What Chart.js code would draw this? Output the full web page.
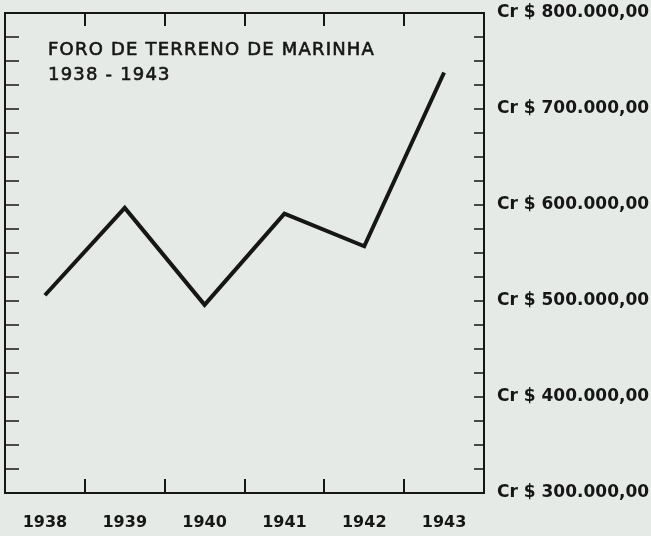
<!DOCTYPE html>
<html>
<head>
<meta charset="utf-8">
<script src="https://cdn.jsdelivr.net/npm/chart.js@4/dist/chart.umd.min.js"></script>
<style>
  html, body { margin: 0; padding: 0; background: #e5eae6; }
  #wrap { width: 651px; height: 536px; }
</style>
</head>
<body>
<div id="wrap"><canvas id="chart"></canvas></div>
<script>
// dados
const years = ["1938", "1939", "1940", "1941", "1942", "1943"];
const foro = [506000, 597000, 496000, 591000, 557000, 738000];
const yTicks = [300000, 400000, 500000, 600000, 700000, 800000];
const titleLines = ["FORO DE TERRENO DE MARINHA", "1938 - 1943"];

const ink = "#161616";
const paper = "#e5eae6";

function fmtCr(v) {
  // 800000 -> "Cr $ 800.000,00"
  const s = String(v).replace(/\B(?=(\d{3})+(?!\d))/g, ".");
  return "Cr $ " + s + ",00";
}

// fundo, moldura, marcas e título
const frame = {
  id: "frame",
  beforeDraw(c) {
    const ctx = c.ctx;
    ctx.save();
    ctx.fillStyle = paper;
    ctx.fillRect(0, 0, c.width, c.height);
    ctx.restore();
  },
  afterDatasetsDraw(c) {
    const ctx = c.ctx;
    const a = c.chartArea;
    const xs = c.scales.x;
    const ys = c.scales.y;
    ctx.save();
    ctx.strokeStyle = ink;
    ctx.lineWidth = 2;
    ctx.strokeRect(a.left, a.top, a.right - a.left, a.bottom - a.top);

    // marcas no topo e na base, entre os anos
    ctx.lineWidth = 2;
    for (let i = 0; i < years.length - 1; i++) {
      const x = Math.round(xs.getPixelForValue(i + 0.5));
      ctx.beginPath();
      ctx.moveTo(x, a.top);
      ctx.lineTo(x, a.top + 13);
      ctx.moveTo(x, a.bottom);
      ctx.lineTo(x, a.bottom - 14);
      ctx.stroke();
    }

    // marcas laterais a cada 25.000
    ctx.lineWidth = 1.6;
    for (let v = ys.min + 25000; v < ys.max; v += 25000) {
      const y = Math.round(ys.getPixelForValue(v));
      ctx.beginPath();
      ctx.moveTo(a.left, y);
      ctx.lineTo(a.left + 14, y);
      ctx.moveTo(a.right, y);
      ctx.lineTo(a.right - 10, y);
      ctx.stroke();
    }
    ctx.restore();
  },
  afterDraw(c) {
    const ctx = c.ctx;
    const a = c.chartArea;
    ctx.save();
    ctx.fillStyle = ink;
    ctx.strokeStyle = ink;
    ctx.lineWidth = 0.6;
    ctx.font = "18px 'DejaVu Sans'";
    ctx.letterSpacing = "1.2px";
    ctx.textBaseline = "middle";
    ctx.textAlign = "left";
    titleLines.forEach((t, i) => {
      const y = i === 0 ? 50 : 75;
      ctx.fillText(t, a.left + 43, y);
      ctx.strokeText(t, a.left + 43, y);
    });
    ctx.restore();
  }
};

const ctx = document.getElementById("chart").getContext("2d");

new Chart(ctx, {
  type: "line",
  data: {
    labels: years,
    datasets: [{
      data: foro,
      borderColor: ink,
      borderWidth: 4,
      pointRadius: 0,
      tension: 0,
      fill: false,
      borderJoinStyle: "miter"
    }]
  },
  options: {
    responsive: true,
    maintainAspectRatio: false,
    animation: false,
    layout: { padding: { top: 13, left: 5, right: 0, bottom: 0 } },
    plugins: {
      legend: { display: false },
      tooltip: { enabled: false }
    },
    scales: {
      x: {
        offset: true,
        grid: { display: false, drawTicks: false },
        border: { display: false },
        ticks: {
          color: ink,
          padding: 20,
          font: { family: "DejaVu Sans", size: 16, weight: "bold" },
          maxRotation: 0
        },
        afterFit(scale) { scale.height = 43; }
      },
      y: {
        position: "right",
        min: 300000,
        max: 800000,
        grid: { display: false, drawTicks: false },
        border: { display: false },
        afterBuildTicks(scale) {
          scale.ticks = yTicks.map(v => ({ value: v }));
        },
        ticks: {
          color: ink,
          padding: 13,
          font: { family: "DejaVu Sans", size: 17, weight: "bold" },
          callback: v => fmtCr(v)
        },
        afterFit(scale) {
          scale.width = 167;
          scale.paddingTop = 0;
          scale.paddingBottom = 0;
        }
      }
    }
  },
  plugins: [frame]
});
</script>
</body>
</html>
